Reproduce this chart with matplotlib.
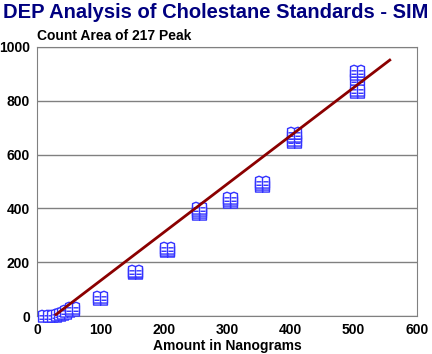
import matplotlib.pyplot as plt
import numpy as np
from matplotlib.path import Path

amount = [12, 20, 27, 33, 38, 43, 48, 55, 55,
          100, 100, 155, 155, 155,
          205, 205, 205, 255, 255, 255, 255,
          305, 305, 305, 355, 355, 355,
          405, 405, 405, 405, 505, 505, 505, 505, 505]
area = [0, 0, 0, 3, 8, 12, 18, 22, 28,
        65, 70, 158, 163, 168,
        240, 246, 252, 378, 386, 394, 402,
        425, 432, 440, 482, 490, 498,
        645, 656, 668, 680, 832, 840, 882, 898, 912]

fit_x = [30, 557]
fit_slope = 1.795
fit_x0 = 27

# open-book marker
verts = [(-1, -0.8), (-1, 0.7), (-0.5, 0.9), (0, 0.7), (0, -0.8), (-1, -0.8),
         (0, -0.8), (1, -0.8), (1, 0.7), (0.5, 0.9), (0, 0.7),
         (-0.85, 0.1), (-0.15, 0.1), (0.15, 0.1), (0.85, 0.1),
         (-0.85, -0.4), (-0.15, -0.4), (0.15, -0.4), (0.85, -0.4)]
codes = [Path.MOVETO, Path.LINETO, Path.LINETO, Path.LINETO, Path.LINETO, Path.CLOSEPOLY,
         Path.MOVETO, Path.LINETO, Path.LINETO, Path.LINETO, Path.LINETO,
         Path.MOVETO, Path.LINETO, Path.MOVETO, Path.LINETO,
         Path.MOVETO, Path.LINETO, Path.MOVETO, Path.LINETO]
book = Path(verts, codes)

fig = plt.figure(figsize=(4.32, 3.54), dpi=100)
ax = fig.add_axes([37 / 432, 1 - 316 / 354, 380 / 432, 269 / 354])

ax.scatter(amount, area, marker=book, s=100, facecolors='white',
           edgecolors='#3333ff', linewidths=1.0, zorder=3, clip_on=False)
fx = np.array(fit_x)
ax.plot(fx, fit_slope * (fx - fit_x0), color='#8b0000', lw=2, zorder=4)

ax.set_xlim(0, 600)
ax.set_ylim(0, 1000)
ax.set_xticks([0, 100, 200, 300, 400, 500, 600])
ax.set_yticks([0, 200, 400, 600, 800, 1000])
ax.tick_params(length=0, labelsize=10, pad=5)
for lab in ax.get_xticklabels() + ax.get_yticklabels():
    lab.set_fontweight('bold')
    lab.set_fontfamily('Liberation Sans')
ax.grid(axis='y', color='#808080', lw=1)
ax.set_axisbelow(True)
for s in ax.spines.values():
    s.set_color('#808080')

ax.set_xlabel('Amount in Nanograms', fontsize=10, fontweight='bold',
              family='Liberation Sans', labelpad=0)
ax.xaxis.set_label_coords(0.5, -0.085)

fig.text(0.5, 0.965, 'DEP Analysis of Cholestane Standards - SIM', ha='center', va='center',
         fontsize=14.5, fontweight='bold', color='#000080', family='Liberation Sans')
fig.text(37 / 432, 1 - 36 / 354, 'Count Area of 217 Peak', ha='left', va='center',
         fontsize=10, fontweight='bold', family='Liberation Sans')

fig.savefig('out.png', dpi=100)
